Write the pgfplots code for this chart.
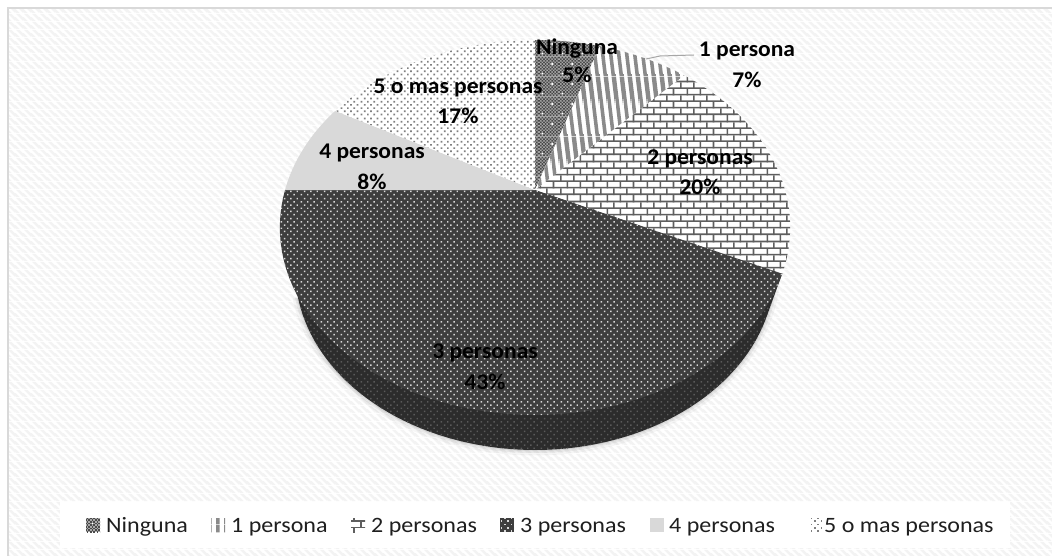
\documentclass[border=0pt]{standalone}
\usepackage{pgfplots}
\pgfplotsset{compat=1.18}
\usepackage{fontspec}
\setmainfont{Carlito}
\newfontfamily\labelfont[FakeStretch=1.05]{Carlito}
\newfontfamily\keyfont[FakeStretch=1.096]{Carlito}
\usetikzlibrary{patterns}

\definecolor{wallpaper}{HTML}{F3F3F3}
\definecolor{framegray}{HTML}{D9D9D9}
\definecolor{mortar}{HTML}{5E5E5E}
\definecolor{darkface}{HTML}{3E3E3E}
\definecolor{darkwall}{HTML}{2C2C2C}
\definecolor{walldot}{HTML}{5A5A5A}
\definecolor{lightdot}{HTML}{D8D8D8}
\definecolor{sparsedot}{HTML}{808080}
\definecolor{stripegray}{HTML}{8A8A8A}
\definecolor{checkdark}{HTML}{4A4A4A}
\definecolor{checklight}{HTML}{A8A8A8}

% Shorthand for one filled rectangle inside a pattern tile
\newcommand{\tilebox}[5]{\pgfsetfillcolor{#1}\pgfpathrectangle{\pgfqpoint{#2bp}{#3bp}}{\pgfqpoint{#4bp}{#5bp}}\pgfusepath{fill}}

% Staggered dot lattice on a 20bp tile; the ground colour is filled separately
\newcommand{\dotlattice}[2]{%
  \foreach \i in {0,1,2}{\foreach \j in {0,1,2}{%
    \pgfmathsetmacro{\px}{0.7+\i*6.6667}\pgfmathsetmacro{\py}{0.7+\j*6.6667}%
    \tilebox{#1}{\px}{\py}{#2}{#2}%
    \pgfmathsetmacro{\px}{4.03+\i*6.6667}\pgfmathsetmacro{\py}{4.03+\j*6.6667}%
    \tilebox{#1}{\px}{\py}{#2}{#2}}}}

\pgfdeclarepatterninherentlycolored{chartback}{\pgfqpoint{0bp}{0bp}}{\pgfqpoint{8bp}{8bp}}{\pgfqpoint{8bp}{8bp}}{%
  \pgfsetfillcolor{wallpaper}%
  \pgfpathmoveto{\pgfqpoint{0bp}{0bp}}\pgfpathlineto{\pgfqpoint{4bp}{0bp}}\pgfpathlineto{\pgfqpoint{0bp}{4bp}}\pgfpathclose
  \pgfpathmoveto{\pgfqpoint{8bp}{0bp}}\pgfpathlineto{\pgfqpoint{8bp}{4bp}}\pgfpathlineto{\pgfqpoint{4bp}{8bp}}\pgfpathlineto{\pgfqpoint{0bp}{8bp}}\pgfpathclose
  \pgfusepath{fill}}

\pgfdeclarepatterninherentlycolored{ninguna}{\pgfqpoint{0bp}{0bp}}{\pgfqpoint{20bp}{20bp}}{\pgfqpoint{20bp}{20bp}}{%
  \foreach \i in {0,...,11}{\foreach \j in {0,...,11}{%
    \pgfmathparse{int(mod(\i+\j,2))}%
    \ifnum\pgfmathresult=0
      \pgfmathsetmacro{\px}{\i*1.6667}\pgfmathsetmacro{\py}{\j*1.6667}%
      \tilebox{checkdark}{\px}{\py}{1.6667}{1.6667}%
    \fi}}%
  \tilebox{white}{1.67}{1.67}{1.67}{1.67}%
  \tilebox{white}{11.67}{11.67}{1.67}{1.67}}

% Vertical stripes with a slight lean
\pgfdeclarepatterninherentlycolored{unapersona}{\pgfqpoint{0bp}{0bp}}{\pgfqpoint{8bp}{60bp}}{\pgfqpoint{8bp}{60bp}}{%
  \pgfsetfillcolor{stripegray}%
  \pgfpathmoveto{\pgfqpoint{4bp}{0bp}}\pgfpathlineto{\pgfqpoint{8bp}{0bp}}\pgfpathlineto{\pgfqpoint{0bp}{60bp}}\pgfpathlineto{\pgfqpoint{-4bp}{60bp}}\pgfpathclose
  \pgfpathmoveto{\pgfqpoint{12bp}{0bp}}\pgfpathlineto{\pgfqpoint{16bp}{0bp}}\pgfpathlineto{\pgfqpoint{8bp}{60bp}}\pgfpathlineto{\pgfqpoint{4bp}{60bp}}\pgfpathclose
  \pgfusepath{fill}}

% Upright version for the legend swatch
\pgfdeclarepatterninherentlycolored{unakey}{\pgfqpoint{0bp}{0bp}}{\pgfqpoint{8bp}{8bp}}{\pgfqpoint{8bp}{8bp}}{%
  \tilebox{stripegray}{0}{0}{4}{8}}

\pgfdeclarepatterninherentlycolored{ladrillo}{\pgfqpoint{0bp}{0bp}}{\pgfqpoint{40bp}{40bp}}{\pgfqpoint{40bp}{40bp}}{%
  \foreach \j in {0,1,2}{%
    \pgfmathsetmacro{\py}{1+\j*13.3333}\pgfmathsetmacro{\pz}{\py+6.6667}%
    \tilebox{mortar}{0}{\py}{40}{1.67}%
    \tilebox{mortar}{0}{\pz}{40}{1.67}%
    \foreach \i in {0,1,2}{%
      \pgfmathsetmacro{\px}{\i*13.3333}\pgfmathsetmacro{\pw}{\px+6.6667}%
      \tilebox{mortar}{\px}{\py}{1.67}{6.67}%
      \tilebox{mortar}{\pw}{\pz}{1.67}{6.67}}}%
  \foreach \i in {0,1,2}{%
    \pgfmathsetmacro{\pw}{6.6667+\i*13.3333}%
    \tilebox{mortar}{\pw}{0}{1.67}{1}}}

\pgfdeclarepatterninherentlycolored{trespuntos}{\pgfqpoint{0bp}{0bp}}{\pgfqpoint{20bp}{20bp}}{\pgfqpoint{20bp}{20bp}}{\dotlattice{lightdot}{1.5}}
\pgfdeclarepatterninherentlycolored{trespared}{\pgfqpoint{0bp}{0bp}}{\pgfqpoint{20bp}{20bp}}{\pgfqpoint{20bp}{20bp}}{\dotlattice{walldot}{1.5}}
\pgfdeclarepatterninherentlycolored{cincopuntos}{\pgfqpoint{0bp}{0bp}}{\pgfqpoint{20bp}{20bp}}{\pgfqpoint{20bp}{20bp}}{\dotlattice{sparsedot}{1.75}}

% Share of the whole, in percent, turned into an angle clockwise from the top
% and then projected onto the tilted disc
\newcommand{\discx}[1]{535+250*sin(#1)/(1+0.2*cos(#1))}
\newcommand{\discy}[1]{190-180*cos(#1)/(1+0.2*cos(#1))}
\newcommand{\lowx}[1]{535+235*sin(#1)/(1+0.2*cos(#1))}
\newcommand{\lowy}[1]{234-172.8*cos(#1)/(1+0.2*cos(#1))}

% #1 share before this slice, #2 share of this slice, #3 ground colour, #4 pattern
\newcommand{\pieslice}[4]{%
  \addplot[draw=none,fill=#3,domain=#1*3.6:(#1+#2)*3.6,samples=60,variable=\t]
    ({\discx{\t}},{\discy{\t}}) -- (axis cs:535,190) -- cycle;
  \addplot[draw=none,pattern=#4,domain=#1*3.6:(#1+#2)*3.6,samples=60,variable=\t]
    ({\discx{\t}},{\discy{\t}}) -- (axis cs:535,190) -- cycle;}

% Two-line slice label
\newcommand{\slicelabel}[5]{%
  \node[font=\fontsize{22.5}{24}\labelfont\bfseries,text=black,inner sep=0pt] at (axis cs:#1,#3) {#5};
  \node[font=\fontsize{22.5}{24}\labelfont\bfseries,text=black,inner sep=0pt] at (axis cs:#1,#4) {#2\%};}

% Legend swatch and its text: #1 left edge, #2 ground, #3 pattern, #4 text start, #5 text
\newcommand{\legendentry}[5]{%
  \addplot[draw=none,fill=#2] coordinates {(#1,518) (#1+14,518) (#1+14,532) (#1,532)} -- cycle;
  \addplot[draw=none,pattern=#3] coordinates {(#1,518) (#1+14,518) (#1+14,532) (#1,532)} -- cycle;
  \node[anchor=base west,font=\fontsize{22}{24}\keyfont,text=black!88,inner sep=0pt] at (axis cs:#4,532) {#5};}

% Pattern with nothing in it, for the plain slice
\pgfdeclarepatterninherentlycolored{liso}{\pgfqpoint{0bp}{0bp}}{\pgfqpoint{8bp}{8bp}}{\pgfqpoint{8bp}{8bp}}{}

\begin{document}
\begin{tikzpicture}
\begin{axis}[
  scale only axis,
  width=1052bp, height=556bp,
  xmin=0, xmax=1052, ymin=0, ymax=556,
  y dir=reverse,
  hide axis,
  clip=true,
]
% Page ground, which also fixes the picture's extent
\addplot[draw=none,fill=white] coordinates {(0,0) (1052,0) (1052,556) (0,556)} -- cycle;

% Chart area: hatched panel with a frame on the visible sides
\addplot[draw=none,pattern=chartback] coordinates {(8,8) (1052,8) (1052,556) (8,556)} -- cycle;
\addplot[draw=framegray,line width=2bp] coordinates {(8.3,556) (8.3,8.3) (1052,8.3)};

% Soft shadow under the disc's rim
\addplot[draw=black,opacity=0.035,line width=11bp,domain=100:250,samples=80,variable=\t] ({\lowx{\t}},{\lowy{\t}});
\addplot[draw=black,opacity=0.05,line width=6bp,domain=100:250,samples=80,variable=\t] ({\lowx{\t}},{\lowy{\t}});
\addplot[draw=black,opacity=0.06,line width=2.5bp,domain=100:250,samples=80,variable=\t] ({\lowx{\t}},{\lowy{\t}});

% Side wall of the "3 personas" slice
\addplot[draw=none,fill=darkwall,domain=115.2:270,samples=80,variable=\t]
  ({\lowx{\t}},{\lowy{\t}}) -- (axis cs:535,190) -- (axis cs:782,274) -- cycle;
\addplot[draw=none,pattern=trespared,domain=115.2:270,samples=80,variable=\t]
  ({\lowx{\t}},{\lowy{\t}}) -- (axis cs:535,190) -- (axis cs:782,274) -- cycle;

% Top face of the pie
\pieslice{0}{5}{checklight}{ninguna}
\pieslice{5}{7}{white}{unapersona}
\pieslice{12}{20}{white}{ladrillo}
\pieslice{32}{43}{darkface}{trespuntos}
\pieslice{75}{8}{framegray}{liso}
\pieslice{83}{17}{white}{cincopuntos}

% Leader line of "1 persona"
\addplot[draw=black!35,line width=1bp] coordinates {(646,59) (660,56) (694,55)};

% Slice labels
\slicelabel{577}{5}{49}{75}{Ninguna}
\slicelabel{747}{7}{51}{80}{1 persona}
\slicelabel{700}{20}{159}{187}{2 personas}
\slicelabel{485}{43}{353}{382}{3 personas}
\slicelabel{372}{8}{153}{182}{4 personas}
\slicelabel{458}{17}{88}{116}{5 o mas personas}

% Legend
\addplot[draw=none,fill=white] coordinates {(60,502) (1010,502) (1010,548) (60,548)} -- cycle;
\legendentry{86}{checklight}{ninguna}{106}{Ninguna}
\legendentry{211}{white}{unakey}{231}{1 persona}
\legendentry{351}{white}{ladrillo}{371}{2 personas}
\legendentry{500}{darkface}{trespuntos}{520}{3 personas}
\legendentry{650}{framegray}{liso}{669}{4 personas}
\legendentry{809}{white}{cincopuntos}{824}{5 o mas personas}
\end{axis}
\end{tikzpicture}
\end{document}
